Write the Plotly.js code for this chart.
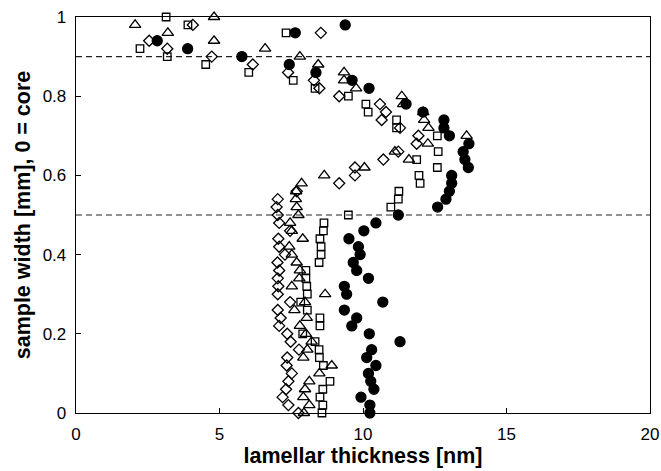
<!DOCTYPE html>
<html>
<head>
<meta charset="utf-8">
<script src="https://cdn.plot.ly/plotly-3.0.1.min.js"></script>
<style>
  html, body { margin: 0; padding: 0; background: #fff; }
  #chart { width: 661px; height: 471px; }
</style>
</head>
<body>
<div id="chart"></div>
<script>
// Lamellar thickness profiles across the sample width (0 = core)

// filled circles
const circleX = [9.38, 7.64, 2.83, 3.89, 5.78, 7.43, 8.36, 9.62, 10.21, 11.50, 12.09, 12.82, 12.82, 13.01, 13.69, 13.49, 13.55, 13.67, 13.09, 13.09, 13.01, 12.89, 12.60, 11.23, 10.45, 10.03, 9.51, 9.84, 9.90, 9.66, 9.78, 10.19, 9.35, 9.43, 10.69, 9.35, 9.78, 9.61, 10.22, 11.29, 10.30, 10.13, 10.45, 10.19, 10.27, 10.38, 9.93, 10.24, 10.24];
const circleY = [0.98, 0.96, 0.94, 0.92, 0.90, 0.88, 0.86, 0.84, 0.82, 0.78, 0.76, 0.74, 0.72, 0.70, 0.68, 0.66, 0.64, 0.62, 0.60, 0.58, 0.56, 0.54, 0.52, 0.50, 0.48, 0.46, 0.44, 0.42, 0.40, 0.38, 0.36, 0.34, 0.32, 0.30, 0.28, 0.26, 0.24, 0.22, 0.20, 0.18, 0.16, 0.14, 0.12, 0.10, 0.08, 0.06, 0.04, 0.02, 0.00];

// open squares
const squareX = [3.14, 3.90, 7.32, 2.23, 3.18, 4.52, 6.02, 7.57, 8.33, 9.49, 10.10, 10.18, 11.17, 11.17, 12.59, 12.62, 11.87, 12.59, 11.95, 11.99, 11.25, 11.23, 10.97, 9.49, 8.64, 8.62, 8.50, 8.54, 8.54, 8.47, 8.01, 8.01, 8.04, 8.06, 7.83, 8.06, 8.50, 8.50, 7.90, 8.33, 8.47, 8.48, 8.62, 8.85, 8.60, 8.50, 8.60, 8.57];
const squareY = [1.00, 0.98, 0.96, 0.92, 0.90, 0.88, 0.86, 0.84, 0.82, 0.80, 0.78, 0.76, 0.74, 0.72, 0.70, 0.66, 0.64, 0.62, 0.60, 0.58, 0.56, 0.54, 0.52, 0.50, 0.48, 0.46, 0.44, 0.42, 0.40, 0.38, 0.36, 0.34, 0.32, 0.30, 0.28, 0.26, 0.24, 0.22, 0.20, 0.18, 0.16, 0.14, 0.12, 0.08, 0.06, 0.04, 0.02, 0.00];

// open triangles
const triangleX = [2.06, 4.81, 3.20, 4.81, 6.59, 7.80, 8.44, 9.34, 9.34, 9.76, 11.35, 11.40, 12.10, 12.13, 12.28, 13.61, 12.26, 11.11, 11.60, 10.05, 8.65, 7.86, 7.67, 7.66, 7.69, 7.75, 7.46, 7.52, 7.90, 7.43, 7.52, 7.69, 7.80, 7.78, 7.52, 8.68, 7.98, 7.61, 8.04, 7.80, 8.01, 8.21, 8.06, 7.92, 8.91, 8.48, 8.13, 7.98, 7.92, 8.13, 7.94];
const triangleY = [0.98, 1.00, 0.96, 0.94, 0.92, 0.90, 0.88, 0.86, 0.84, 0.82, 0.80, 0.78, 0.76, 0.74, 0.72, 0.70, 0.68, 0.66, 0.64, 0.62, 0.60, 0.58, 0.56, 0.54, 0.52, 0.50, 0.48, 0.46, 0.44, 0.42, 0.40, 0.38, 0.36, 0.34, 0.32, 0.30, 0.28, 0.26, 0.24, 0.22, 0.20, 0.18, 0.16, 0.14, 0.12, 0.10, 0.08, 0.06, 0.04, 0.02, 0.00];

// open diamonds
const diamondX = [4.07, 8.53, 2.55, 3.18, 4.73, 6.16, 7.39, 8.29, 8.48, 9.17, 10.59, 10.80, 10.65, 11.29, 11.93, 11.87, 11.23, 10.71, 9.72, 9.72, 9.17, 7.69, 7.03, 6.99, 7.03, 7.08, 7.46, 7.05, 7.08, 7.28, 7.02, 7.08, 7.03, 7.05, 7.03, 7.46, 7.03, 7.13, 7.08, 7.36, 7.48, 7.77, 7.36, 7.34, 7.52, 7.40, 7.32, 7.20, 7.40, 7.75];
const diamondY = [0.98, 0.96, 0.94, 0.92, 0.90, 0.88, 0.86, 0.84, 0.82, 0.80, 0.78, 0.76, 0.74, 0.72, 0.70, 0.68, 0.66, 0.64, 0.62, 0.60, 0.58, 0.56, 0.54, 0.52, 0.50, 0.48, 0.46, 0.44, 0.42, 0.40, 0.38, 0.36, 0.34, 0.32, 0.30, 0.28, 0.26, 0.24, 0.22, 0.20, 0.18, 0.16, 0.14, 0.12, 0.10, 0.08, 0.06, 0.04, 0.02, 0.00];

// horizontal reference levels
const guideLevels = [0.9, 0.5];

const xTicks = [0, 5, 10, 15, 20];
const yTicks = [0, 0.2, 0.4, 0.6, 0.8, 1];
const yTickText = ['0', '0.2', '0.4', '0.6', '0.8', '1'];

const FONT = 'Arial, "Liberation Sans", sans-serif';

function series(x, y, symbol, size) {
  return {
    type: 'scatter', mode: 'markers', x: x, y: y,
    cliponaxis: false, hoverinfo: 'skip',
    marker: { symbol: symbol, size: size, color: '#000',
              line: { color: '#000', width: 1.3 } }
  };
}

const traces = [
  series(diamondX, diamondY, 'diamond-open', 8.5),
  series(triangleX, triangleY, 'triangle-up-open', 10),
  series(squareX, squareY, 'square-open', 7.5),
  series(circleX, circleY, 'circle', 10)
];

const axisBase = {
  showgrid: false, zeroline: false, showline: true, mirror: true,
  linecolor: '#000', linewidth: 1.3,
  ticks: 'inside', ticklen: 5, tickwidth: 1, tickcolor: '#000',
  ticklabelstandoff: 5,
  tickfont: { family: FONT, size: 17, color: '#000' }
};

const layout = {
  width: 661, height: 471,
  margin: { l: 76, r: 11, t: 17, b: 58 },
  paper_bgcolor: '#fff', plot_bgcolor: '#fff',
  showlegend: false,
  font: { family: FONT, color: '#000' },
  xaxis: Object.assign({}, axisBase, {
    range: [0, 20], tickvals: xTicks,
    title: { text: '<b>lamellar thickness [nm]</b>', font: { family: FONT, size: 21.5, color: '#000' }, standoff: 2 }
  }),
  yaxis: Object.assign({}, axisBase, {
    range: [0, 1], tickvals: yTicks, ticktext: yTickText,
    title: { text: '<b>sample width [mm], 0 = core</b>', font: { family: FONT, size: 21.5, color: '#000' }, standoff: 6 }
  }),
  shapes: guideLevels.map(v => ({
    type: 'line', xref: 'paper', x0: 0, x1: 1, yref: 'y', y0: v, y1: v,
    layer: 'below', line: { color: '#222', width: 1.2, dash: '6px,4px' }
  }))
};

Plotly.newPlot('chart', traces, layout, { staticPlot: true, displayModeBar: false });
</script>
</body>
</html>
